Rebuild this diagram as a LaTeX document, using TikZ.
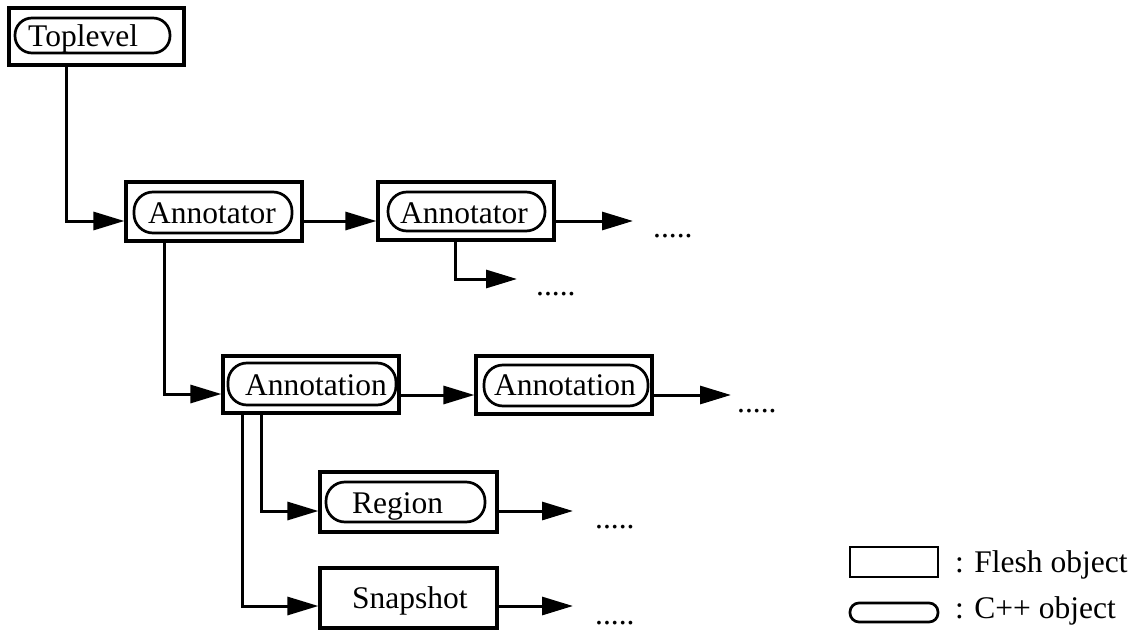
\documentclass[tikz,border=0pt]{standalone}
\usepackage{fontspec}
\setmainfont{Liberation Serif}
\usetikzlibrary{arrows.meta}
\tikzset{
  fleshbox/.style={draw, line width=3.2pt, inner sep=0pt, minimum width=#1},
  fleshbox/.default=176pt,
  cppill/.style={draw, line width=2.7pt, inner sep=0pt, rounded corners=19pt},
  lbl/.style={anchor=base west, inner sep=0pt, font=\fontsize{31.5}{31.5}\selectfont},
  link/.style={line width=3pt, -{Triangle[length=31pt,width=18pt]}}
}
\begin{document}
\begin{tikzpicture}[x=1pt,y=-1pt]
\useasboundingbox (0,0) rectangle (1147,631);
% Flesh boxes
\node[fleshbox=175pt, minimum height=57pt] (top) at (96.5,36.5) {};
\node[fleshbox, minimum height=59pt] (ann1) at (214,211.5) {};
\node[fleshbox, minimum height=58pt] (ann2) at (466,211) {};
\node[fleshbox, minimum height=57pt] (an1) at (311,384.5) {};
\node[fleshbox, minimum height=58pt] (an2) at (564,385) {};
\node[fleshbox=177pt, minimum height=60pt] (reg) at (408.5,502) {};
\node[fleshbox=177pt, minimum height=60pt] (snap) at (408.5,598) {};
% C++ pills
\node[cppill, minimum width=155pt, minimum height=35pt, rounded corners=17pt] (ptop) at (92.5,35.5) {};
\node[cppill, minimum width=158pt, minimum height=41pt] (pann1) at (213,212.5) {};
\node[cppill, minimum width=157pt, minimum height=39pt] (pann2) at (466.5,211.5) {};
\node[cppill, minimum width=168pt, minimum height=42pt] (pan1) at (312,384) {};
\node[cppill, minimum width=164pt, minimum height=41pt] (pan2) at (566,385.5) {};
\node[cppill, minimum width=159pt, minimum height=40pt] (preg) at (405.5,502) {};
% Labels
\node[lbl] (ttop) at (28,47) {Toplevel};
\node[lbl] (tann1) at (148,223) {Annotator};
\node[lbl] (tann2) at (400,223) {Annotator};
\node[lbl] (tan1) at (245,395) {Annotation};
\node[lbl] (tan2) at (494,395) {Annotation};
\node[lbl] (treg) at (352,513) {Region};
\node[lbl] (tsnap) at (352,608) {Snapshot};
% Continuation dots
\node[lbl] (d1) at (653,237) {.....};
\node[lbl] (d2) at (536,295) {.....};
\node[lbl] (d3) at (737,412) {.....};
\node[lbl] (d4) at (595,528) {.....};
\node[lbl] (d5) at (595,624) {.....};
\coordinate (e1) at (633,221);
\coordinate (e2) at (517,279);
\coordinate (e3) at (731,395);
\coordinate (e4) at (573,511);
\coordinate (e5) at (573,606);
% Connectors
\draw[link] ([xshift=59pt]top.south west) |- ([yshift=-9.5pt]ann1.west);
\draw[link] ([yshift=-9.5pt]ann1.east) -- ([yshift=-9.5pt]ann1.east -| ann2.west);
\draw[link] ([yshift=-9.5pt]ann1.east -| ann2.east) -- (e1);
\draw[link] ([xshift=79pt]ann2.south west) |- (e2);
\draw[link] ([xshift=40pt]ann1.south west) |- ([yshift=-9.5pt]an1.west);
\draw[link] ([yshift=-10.5pt]an1.east) -- ([yshift=-10.5pt]an1.east -| an2.west);
\draw[link] ([yshift=-10.5pt]an1.east -| an2.east) -- (e3);
\draw[link] ([xshift=40pt]an1.south west) |- ([yshift=-9pt]reg.west);
\draw[link] ([xshift=21pt]an1.south west) |- ([yshift=-8pt]snap.west);
\draw[link] ([yshift=-9pt]reg.east) -- (e4);
\draw[link] ([yshift=-8pt]snap.east) -- (e5);
% Legend
\node[fleshbox=88pt, minimum height=30pt, line width=2.8pt] (lgbox) at (894,562) {};
\node[cppill, minimum width=88pt, minimum height=19pt, rounded corners=9pt] (lgpill) at (894,612.5) {};
\node[lbl] (lgt1) at (955,572) {: Flesh object};
\node[lbl] (lgt2) at (955,618) {: C++ object};
\end{tikzpicture}
\end{document}
